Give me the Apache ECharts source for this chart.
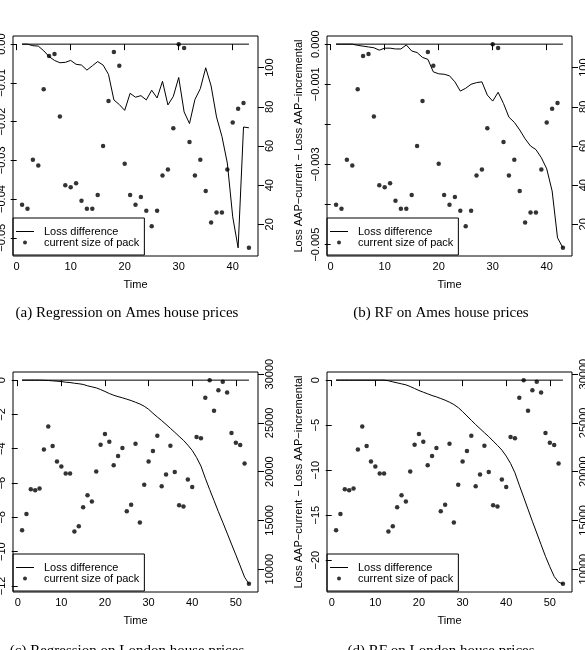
<!DOCTYPE html>
<html>
<head>
<meta charset="utf-8">
<script src="https://cdn.jsdelivr.net/npm/echarts@6/dist/echarts.min.js"></script>
<style>
  html, body { margin: 0; padding: 0; background: #fff; }
  #chart { width: 585px; height: 650px; }
</style>
</head>
<body>
<div id="chart"></div>
<script>
// time steps
const amesTime = [1, 2, 3, 4, 5, 6, 7, 8, 9, 10, 11, 12, 13, 14, 15, 16, 17, 18, 19, 20,
  21, 22, 23, 24, 25, 26, 27, 28, 29, 30, 31, 32, 33, 34, 35, 36, 37, 38, 39, 40, 41, 42, 43]
const londonTime = [1, 2, 3, 4, 5, 6, 7, 8, 9, 10, 11, 12, 13, 14, 15, 16, 17, 18, 19, 20,
  21, 22, 23, 24, 25, 26, 27, 28, 29, 30, 31, 32, 33, 34, 35, 36, 37, 38, 39, 40,
  41, 42, 43, 44, 45, 46, 47, 48, 49, 50, 51, 52, 53]

// current size of pack (right axis)
const amesPack = [30, 28, 53, 50, 89, 106, 107, 75, 40, 39, 41, 32, 28, 28, 35, 60, 83, 108, 101, 51,
  35, 30, 34, 27, 19, 27, 45, 48, 69, 112, 110, 62, 45, 53, 37, 21, 26, 26, 48, 72, 79, 82, 8]
const londonPack = [13980, 15660, 18200, 18100, 18270, 22280, 24620, 22630, 21050, 20530,
  19810, 19810, 13850, 14390, 16350, 17580, 16930, 20020, 22760, 23860,
  23070, 20640, 21600, 22420, 15940, 16590, 22870, 14770, 18650, 21050,
  22110, 23690, 18510, 19710, 22660, 19950, 16550, 16420, 19200, 18410,
  23550, 23410, 27570, 29380, 26230, 28350, 29210, 28110, 23960, 22970,
  22730, 20840, 8490]

// loss difference (left axis)
const regAmesDiff = [0, 0, -0.0004, -0.0005, -0.0017, -0.0032, -0.0042, -0.0048, -0.0047, -0.0042,
  -0.0052, -0.0054, -0.0067, -0.0056, -0.0045, -0.0054, -0.0078, -0.0144, -0.0156, -0.0171,
  -0.0127, -0.0137, -0.0133, -0.0144, -0.0119, -0.0139, -0.0096, -0.0157, -0.0135, -0.0086,
  -0.0175, -0.0205, -0.0143, -0.0115, -0.0061, -0.0108, -0.0188, -0.0238, -0.0307, -0.0446,
  -0.0526, -0.0214, -0.0216]
const rfAmesDiff = [0, 0, 0, 0, -0.00003, -0.00005, -0.00007, -0.00009, -0.00015, -0.0001,
  -0.0001, -0.00012, -0.00012, -0.00002, -0.00017, -0.00021, -0.00033, -0.00038, -0.00069, -0.00074,
  -0.00075, -0.00079, -0.00094, -0.00117, -0.0011, -0.001, -0.00096, -0.00094, -0.00127, -0.00142,
  -0.0012, -0.00148, -0.00182, -0.00195, -0.00214, -0.00236, -0.00254, -0.00263, -0.00283, -0.00311,
  -0.00366, -0.00483, -0.00508]
const regLondonDiff = [0, 0, 0, 0, 0, -0.01, -0.02, -0.04, -0.06, -0.08,
  -0.12, -0.14, -0.18, -0.21, -0.25, -0.33, -0.39, -0.45, -0.55, -0.66,
  -0.78, -0.88, -0.96, -1.03, -1.11, -1.19, -1.29, -1.39, -1.52, -1.70,
  -1.93, -2.15, -2.36, -2.58, -2.81, -3.04, -3.28, -3.51, -3.79, -4.10,
  -4.51, -5.01, -5.72, -6.38, -7.02, -7.67, -8.29, -8.92, -9.56, -10.19,
  -10.83, -11.49, -11.88]
const rfLondonDiff = [0, 0, 0, 0, 0, 0, 0, 0, 0, 0,
  0, 0, -0.07, -0.19, -0.3, -0.41, -0.52, -0.71, -0.93, -1.15,
  -1.34, -1.52, -1.71, -1.86, -2.04, -2.23, -2.45, -2.71, -3.05, -3.49,
  -3.98, -4.46, -4.94, -5.39, -5.84, -6.28, -6.77, -7.25, -7.77, -8.44,
  -9.26, -10.3, -11.67, -13.0, -14.35, -15.69, -16.99, -18.29, -19.59, -20.74,
  -21.82, -22.45, -22.64]

// tick labels
const amesTimeTicks = [0, 10, 20, 30, 40]
const londonTimeTicks = [0, 10, 20, 30, 40, 50]
const regAmesTicks = [0, -0.01, -0.02, -0.03, -0.04, -0.05]
const rfAmesTicks = [0, -0.001, -0.002, -0.003, -0.004, -0.005]
const rfAmesLabels = [0, -0.001, -0.003, -0.005]
const regLondonTicks = [0, -2, -4, -6, -8, -10, -12]
const rfLondonTicks = [0, -5, -10, -15, -20]
const amesPackTicks = [20, 40, 60, 80, 100]
const londonPackTicks = [10000, 15000, 20000, 25000, 30000]

const captions = [
  '(a) Regression on Ames house prices',
  '(b) RF on Ames house prices',
  '(c) Regression on London house prices',
  '(d) RF on London house prices',
]
const yTitle = 'Loss AAP\u2212current \u2212 Loss AAP\u2212incremental'
const legendNames = ['Loss difference', 'current size of pack']

const FONT = '"Liberation Sans", Arial, sans-serif'
const txt = { color: '#000', fontSize: 11, fontFamily: FONT }

// R style: data range padded by 4% on each side
function padRange(values) {
  const lo = Math.min(...values), hi = Math.max(...values)
  const d = (hi - lo) * 0.04
  return [lo - d, hi + d]
}

function fmt(digits) {
  return v => (digits ? Number(v).toFixed(digits) : String(v)).replace('-', '\u2212')
}

const panels = [
  { left: 13, top: 36, time: amesTime, diff: regAmesDiff, pack: amesPack, timeTicks: amesTimeTicks,
    leftTicks: regAmesTicks, leftLabels: regAmesTicks, digits: 2, packTicks: amesPackTicks,
    title: false, cap: [127, 313] },
  { left: 327, top: 36, time: amesTime, diff: rfAmesDiff, pack: amesPack, timeTicks: amesTimeTicks,
    leftTicks: rfAmesTicks, leftLabels: rfAmesLabels, digits: 3, packTicks: amesPackTicks,
    title: true, cap: [441, 313] },
  { left: 13, top: 372, time: londonTime, diff: regLondonDiff, pack: londonPack, timeTicks: londonTimeTicks,
    leftTicks: regLondonTicks, leftLabels: regLondonTicks, digits: 0, packTicks: londonPackTicks,
    title: false, cap: [127, 651] },
  { left: 327, top: 372, time: londonTime, diff: rfLondonDiff, pack: londonPack, timeTicks: londonTimeTicks,
    leftTicks: rfLondonTicks, leftLabels: rfLondonTicks, digits: 0, packTicks: londonPackTicks,
    title: true, cap: [441, 651] },
]

const W = 245, H = 220
const grid = [], xAxis = [], yAxis = [], series = [], legend = [], graphic = []

panels.forEach((p, i) => {
  grid.push({ left: p.left, top: p.top, width: W, height: H, show: true,
    outerBoundsMode: 'none', containLabel: false,
    borderColor: '#000', borderWidth: 1, backgroundColor: 'transparent' })

  const [xmin, xmax] = padRange(p.time)
  xAxis.push({
    type: 'value', gridIndex: i, min: xmin, max: xmax,
    axisLine: { show: false }, splitLine: { show: false },
    axisTick: { show: true, length: 6, customValues: p.timeTicks, lineStyle: { color: '#000' } },
    axisLabel: { customValues: p.timeTicks, margin: 5, ...txt },
    name: 'Time', nameLocation: 'middle', nameGap: 23, nameTextStyle: txt,
  })

  const [lmin, lmax] = padRange(p.diff.concat([0]))
  yAxis.push({
    type: 'value', gridIndex: i, position: 'left', min: lmin, max: lmax,
    axisLine: { show: false }, splitLine: { show: false },
    axisTick: { show: true, length: 6, customValues: p.leftTicks, lineStyle: { color: '#000' } },
    axisLabel: { customValues: p.leftLabels, rotate: 90, margin: 6, formatter: fmt(p.digits), ...txt },
    name: p.title ? yTitle : '', nameLocation: 'middle', nameRotate: 90, nameGap: 23, nameTextStyle: txt,
  })

  const [rmin, rmax] = padRange(p.pack)
  yAxis.push({
    type: 'value', gridIndex: i, position: 'right', min: rmin, max: rmax,
    axisLine: { show: false }, splitLine: { show: false },
    axisTick: { show: true, length: 6, customValues: p.packTicks, lineStyle: { color: '#000' } },
    axisLabel: { customValues: p.packTicks, rotate: 90, margin: 6, formatter: v => String(v), ...txt },
  })

  const last = p.time.length - 1
  series.push(
    {
      type: 'line', name: legendNames[0], xAxisIndex: i, yAxisIndex: 2 * i,
      data: p.time.map((t, k) => [t, p.diff[k]]),
      symbol: 'none', lineStyle: { color: '#000', width: 1 }, itemStyle: { color: '#000' },
    },
    {
      type: 'line', name: 'zero', xAxisIndex: i, yAxisIndex: 2 * i,
      data: [[p.time[0], 0], [p.time[last], 0]],
      symbol: 'none', lineStyle: { color: '#000', width: 1 },
    },
    {
      type: 'scatter', name: legendNames[1], xAxisIndex: i, yAxisIndex: 2 * i + 1,
      data: p.time.map((t, k) => [t, p.pack[k]]),
      symbol: 'circle', symbolSize: 4.5, itemStyle: { color: '#000' },
    },
  )

  legend.push({
    left: p.left, top: p.top + H - 38, orient: 'vertical',
    itemWidth: 18, itemHeight: 4, itemGap: 0, padding: [8, 5, 7, 3],
    borderColor: '#000', borderWidth: 1, borderRadius: 0, selectedMode: false,
    textStyle: { ...txt, lineHeight: 11, padding: [0, 0, 0, 5] },
    data: [
      { name: legendNames[0], icon: 'path://M0,0L18,0L18,1L0,1Z', itemStyle: { color: '#000' } },
      { name: legendNames[1], icon: 'circle', itemStyle: { color: '#000' } },
    ],
  })

  graphic.push({
    type: 'text', x: p.cap[0], y: p.cap[1],
    style: { text: captions[i], font: '15px "Liberation Serif", "Times New Roman", serif',
      fill: '#000', textAlign: 'center', textVerticalAlign: 'middle' },
  })
})

const chart = echarts.init(document.getElementById('chart'))
chart.setOption({
  animation: false,
  backgroundColor: '#fff',
  grid, xAxis, yAxis, series, legend, graphic,
})
</script>
</body>
</html>
